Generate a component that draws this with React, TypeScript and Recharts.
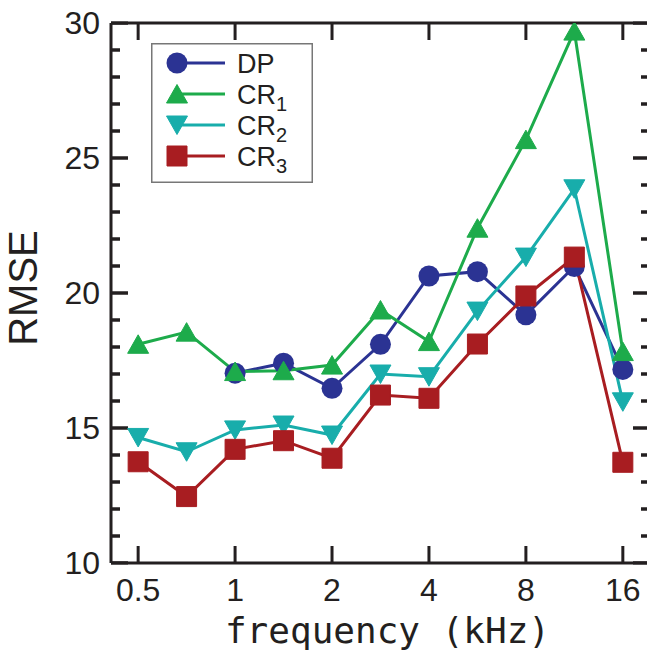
import React from 'react';
import { ComposedChart, Line, XAxis, YAxis, Legend, ReferenceLine, ReferenceArea } from 'recharts';

// frequency (kHz) of each measurement
const frequencies = [0.5, 0.707, 1, 1.414, 2, 2.828, 4, 5.657, 8, 11.31, 16];
// RMSE values per series
const dpValues = [null, null, 17.03, 17.4, 16.47, 18.1, 20.63, 20.79, 19.19, 20.98, 17.17];
const cr1Values = [18.1, 18.55, 17.09, 17.12, 17.33, 19.37, 18.2, 22.4, 25.68, 29.7, 17.83];
const cr2Values = [14.65, 14.12, 14.93, 15.11, 14.74, 17.0, 16.9, 19.33, 21.33, 23.86, 15.97];
const cr3Values = [13.75, 12.46, 14.21, 14.53, 13.88, 16.22, 16.1, 18.11, 19.89, 21.33, 13.73];

const seriesKeys = ['DP', 'CR1', 'CR2', 'CR3'];
const seriesLabelBase = ['DP', 'CR', 'CR', 'CR'];
const seriesLabelSub = ['', '1', '2', '3'];
const seriesColors = ['#2B3393', '#1DAB4B', '#18ADAB', '#A81D21'];
const seriesShapes = ['circle', 'up', 'down', 'square'];

const xTicks = [0.5, 1, 2, 4, 8, 16];
const yTicks = [10, 15, 20, 25, 30];
const yMinorTicks = [10, 11, 12, 13, 14, 15, 16, 17, 18, 19, 20, 21, 22, 23, 24, 25, 26, 27, 28, 29, 30];
const xDomain = [0.4118, 19.43];
const yDomain = [10, 30];

const data = frequencies.map((f, i) => ({
  f,
  DP: dpValues[i],
  CR1: cr1Values[i],
  CR2: cr2Values[i],
  CR3: cr3Values[i],
}));

const INK = '#231f20';
const FONT = 'Liberation Sans, Arial, sans-serif';
const MAJOR = 17;
const MINOR = 9;
const Y_MARGIN = 11;
const X_MARGIN = 15;

// plot geometry, used to turn tick-mark lengths (px) into data units
const PLOT_W = 539;
const PLOT_H = 540;
const PX_PER_OCT = PLOT_W / Math.log2(xDomain[1] / xDomain[0]);
const Y_PER_PX = (yDomain[1] - yDomain[0]) / PLOT_H;
const xStep = (px: number) => Math.pow(2, px / PX_PER_OCT);
const HALF = 1.5; // half of the tick stroke width

function Marker({ shape, cx, cy, color }: { shape: string; cx: number; cy: number; color: string }) {
  if (shape === 'circle') return <circle cx={cx} cy={cy} r={10.5} fill={color} />;
  if (shape === 'square')
    return <rect x={cx - 10} y={cy - 10} width={20} height={20} fill={color} stroke={color} strokeWidth={1} strokeLinejoin="round" />;
  if (shape === 'up')
    return (
      <polygon
        points={`${cx},${cy - 9.5} ${cx - 10.5},${cy + 9} ${cx + 10.5},${cy + 9}`}
        fill={color}
        stroke={color}
        strokeWidth={1}
        strokeLinejoin="round"
      />
    );
  return (
    <polygon
      points={`${cx},${cy + 9.5} ${cx - 10.5},${cy - 9} ${cx + 10.5},${cy - 9}`}
      fill={color}
      stroke={color}
      strokeWidth={1}
      strokeLinejoin="round"
    />
  );
}

function makeDot(idx: number) {
  return (props: any) => {
    const { cx, cy, key, value, index } = props;
    const k = key ?? `dot-${idx}-${index}`;
    if (value == null || cx == null || cy == null || isNaN(cx) || isNaN(cy)) return <g key={k} />;
    return (
      <g key={k}>
        <Marker shape={seriesShapes[idx]} cx={cx} cy={cy} color={seriesColors[idx]} />
      </g>
    );
  };
}

function LegendBox(props: any) {
  const payload = [...(props.payload || [])]
    .filter((e: any) => seriesKeys.includes(e.dataKey))
    .sort((a: any, b: any) => seriesKeys.indexOf(a.dataKey) - seriesKeys.indexOf(b.dataKey));
  return (
    <svg width={162} height={140} style={{ display: 'block' }}>
      <rect x={0.75} y={0.75} width={160.5} height={138.5} fill="#fff" stroke="#777" strokeWidth={1.5} />
      {payload.map((entry: any, i: number) => {
        const idx = seriesKeys.indexOf(entry.dataKey);
        const cy = 20 + i * 31;
        return (
          <g key={entry.dataKey}>
            <line x1={26} y1={cy} x2={74} y2={cy} stroke={seriesColors[idx]} strokeWidth={3} />
            <Marker shape={seriesShapes[idx]} cx={26} cy={cy} color={seriesColors[idx]} />
            <text x={86} y={cy + 10} fontSize={27} fontFamily={FONT} fill={INK}>
              {seriesLabelBase[idx]}
              {seriesLabelSub[idx] ? (
                <tspan fontSize={20} dy={7}>
                  {seriesLabelSub[idx]}
                </tspan>
              ) : null}
            </text>
          </g>
        );
      })}
    </svg>
  );
}

// bottom x ticks: inward tick marks + labels, plus the matching top-edge tick
const XTickBottom = (props: any) => {
  const { x, y, payload } = props;
  const ay = y - X_MARGIN;
  const topY = ay - PLOT_H;
  return (
    <g>
      <line x1={x} y1={ay} x2={x} y2={ay - MAJOR} stroke={INK} strokeWidth={3} />
      <line x1={x} y1={topY} x2={x} y2={topY + MAJOR} stroke={INK} strokeWidth={3} />
      <text x={x} y={y} dy="0.71em" textAnchor="middle" fontSize={32} fontFamily={FONT} fill={INK}>
        {String(payload.value)}
      </text>
    </g>
  );
};

const XLabel = (props: any) => {
  const vb = props.viewBox || { x: 111, y: 563, width: 539 };
  return (
    <text
      x={vb.x + vb.width / 2 + 7}
      y={vb.y + 80}
      textAnchor="middle"
      fontSize={36}
      fontFamily="DejaVu Sans Mono, monospace"
      fill={INK}
    >
      frequency (kHz)
    </text>
  );
};

const YLabel = (props: any) => {
  const vb = props.viewBox || { x: 0, y: 23, height: 540 };
  const x = vb.x + 37;
  const y = vb.y + vb.height / 2 - 5;
  return (
    <text
      x={x}
      y={y}
      transform={`rotate(-90, ${x}, ${y})`}
      textAnchor="middle"
      fontSize={40}
      fontFamily={FONT}
      fill={INK}
    >
      RMSE
    </text>
  );
};

const frameLine = { stroke: INK, strokeWidth: 3 };

export default function App() {
  const tickAreas: React.ReactNode[] = [];
  const tickLines: React.ReactNode[] = [];
  yMinorTicks.forEach((v) => {
    const len = yTicks.includes(v) ? MAJOR : MINOR;
    const y1 = v - HALF * Y_PER_PX;
    const y2 = v + HALF * Y_PER_PX;
    tickAreas.push(
      <ReferenceArea key={`ral-${v}`} xAxisId="x" yAxisId="y" x1={xDomain[0]} x2={xDomain[0] * xStep(len)} y1={y1} y2={y2}
        fill={INK} fillOpacity={1} stroke="none" ifOverflow="visible" />
    );
    tickAreas.push(
      <ReferenceArea key={`rar-${v}`} xAxisId="x" yAxisId="y" x1={xDomain[1] / xStep(len)} x2={xDomain[1]} y1={y1} y2={y2}
        fill={INK} fillOpacity={1} stroke="none" ifOverflow="visible" />
    );
    tickLines.push(
      <Line key={`ll-${v}`} xAxisId="x" yAxisId="y" data={[{ f: xDomain[0], tv: v }, { f: xDomain[0] * xStep(len), tv: v }]}
        dataKey="tv" stroke={INK} strokeWidth={3} dot={false} activeDot={false} legendType="none" isAnimationActive={false} />
    );
    tickLines.push(
      <Line key={`lr-${v}`} xAxisId="x" yAxisId="y" data={[{ f: xDomain[1] / xStep(len), tv: v }, { f: xDomain[1], tv: v }]}
        dataKey="tv" stroke={INK} strokeWidth={3} dot={false} activeDot={false} legendType="none" isAnimationActive={false} />
    );
  });

  return (
    <div style={{ position: 'absolute', left: 0, top: 0, width: 647, height: 651, overflow: 'hidden', background: '#fff' }}>
      <ComposedChart width={650} height={651} data={data} margin={{ top: 23, right: 0, left: 0, bottom: 0 }}>
        <XAxis
          xAxisId="x"
          dataKey="f"
          type="number"
          scale="log"
          domain={xDomain}
          allowDataOverflow
          ticks={xTicks}
          interval={0}
          tickLine={false}
          tickSize={0}
          tickMargin={X_MARGIN}
          axisLine={frameLine}
          tick={XTickBottom}
          height={88}
          label={{ content: XLabel }}
        />
        <YAxis
          yAxisId="y"
          type="number"
          domain={yDomain}
          allowDataOverflow
          ticks={yTicks}
          interval={0}
          width={111}
          tickLine={false}
          tickSize={0}
          tickMargin={Y_MARGIN}
          axisLine={frameLine}
          tick={{ fontSize: 32, fill: INK, fontFamily: FONT }}
          label={{ content: YLabel }}
        />
        <ReferenceLine xAxisId="x" yAxisId="y" y={yDomain[1]} stroke={INK} strokeWidth={3} ifOverflow="visible" />
        {tickAreas}
        <Legend
          layout="vertical"
          align="center"
          verticalAlign="middle"
          itemSorter={null as any}
          content={<LegendBox />}
          wrapperStyle={{ position: 'absolute', left: 151, top: 43, width: 162, height: 140 }}
        />
        {tickLines}
        {seriesKeys.map((k, i) => (
          <Line
            key={k}
            xAxisId="x"
            yAxisId="y"
            dataKey={k}
            name={k}
            stroke={seriesColors[i]}
            strokeWidth={3}
            dot={makeDot(i)}
            activeDot={false}
            isAnimationActive={false}
            connectNulls={false}
          />
        ))}
      </ComposedChart>
    </div>
  );
}
